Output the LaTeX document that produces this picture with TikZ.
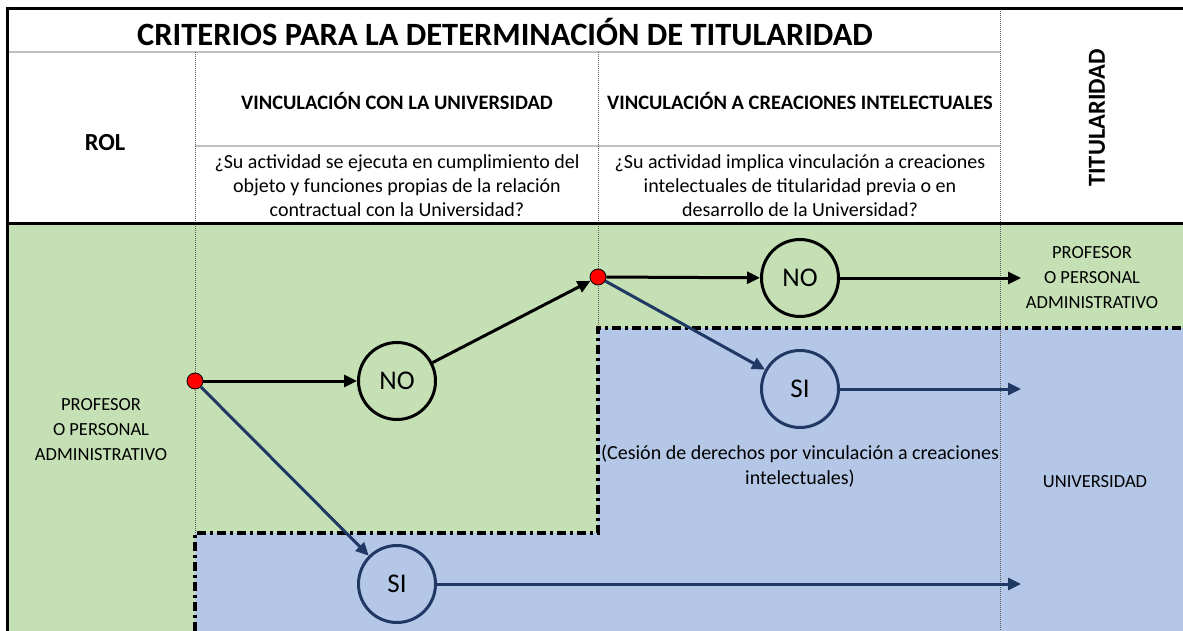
\documentclass[tikz,border=0pt]{standalone}
\usepackage{fontspec}
\setmainfont{Carlito}
\usetikzlibrary{arrows.meta}
\definecolor{verde}{HTML}{C5E0B4}
\definecolor{azul}{HTML}{B4C7E7}
\definecolor{azuloscuro}{HTML}{203864}

\begin{document}
\begin{tikzpicture}[x=1pt, y=-1pt,
        punto/.style={circle, draw, fill=red, inner sep=0pt, minimum size=16pt, line width=0.8pt},
        opcion/.style={circle, draw, line width=3pt, inner sep=0pt, minimum size=77pt, font=\fontsize{27}{30}\selectfont},
        flecha/.style={line width=3pt, -{Triangle[length=13pt, width=12pt]}},
        rejilla/.style={gray!70!black, densely dotted, line width=1pt},
        texto/.style={align=center, font=\fontsize{20}{24}\selectfont},
        rotulo/.style={align=center, font=\fontsize{18.5}{25}\selectfont}]
        \useasboundingbox (0, 0) rectangle (1183, 631);
        \fill[white] (0, 0) rectangle (1183, 631);

        % fondos
        \fill[verde] (7, 224) rectangle (1183, 631);
        \fill[azul] (195, 631) -- (195, 533) -- (598, 533) -- (598, 328) -- (1183, 328) -- (1183, 631) -- cycle;

        % rejilla
        \draw[gray!50, line width=1.5pt] (7, 52) -- (1000, 52);
        \draw[gray!50, line width=1.5pt] (195, 146) -- (1000, 146);
        \draw[rejilla] (195, 52) -- (195, 533);
        \draw[rejilla] (598, 52) -- (598, 328);
        \draw[rejilla] (1000, 9) -- (1000, 631);
        \draw[line width=3pt] (7, 631) -- (7, 9) -- (1183, 9);
        \draw[line width=3pt] (7, 224) -- (1183, 224);
        \draw[line width=3.5pt, dash pattern=on 9pt off 4pt on 3pt off 4pt] (195, 631) -- (195, 533) -- (598, 533) -- (598, 328) -- (1183, 328);

        % encabezado
        \node[font=\bfseries\fontsize{32.5}{35}\selectfont] (titulo) at (505, 32) {CRITERIOS PARA LA DETERMINACIÓN DE TITULARIDAD};
        \node[font=\bfseries\fontsize{24.5}{28}\selectfont] (rol) at (105, 143) {ROL};
        \node[font=\bfseries\fontsize{20.5}{24}\selectfont] (vinc1) at (397, 101) {VINCULACIÓN CON LA UNIVERSIDAD};
        \node[font=\bfseries\fontsize{20.5}{24}\selectfont] (vinc2) at (800, 101) {VINCULACIÓN A CREACIONES INTELECTUALES};
        \node[texto] (preg1) at (397, 186) {¿Su actividad se ejecuta en cumplimiento del\\objeto y funciones propias de la relación\\contractual con la Universidad?};
        \node[texto] (preg2) at (800, 186) {¿Su actividad implica vinculación a creaciones\\intelectuales de titularidad previa o en\\desarrollo de la Universidad?};
        \node[rotate=90, font=\bfseries\fontsize{24.5}{28}\selectfont] (titul) at (1097, 118) {TITULARIDAD};

        % textos del cuerpo
        \node[rotulo] (rol1) at (101, 430) {PROFESOR\\O PERSONAL\\ADMINISTRATIVO};
        \node[rotulo] (res1) at (1092, 278) {PROFESOR\\O PERSONAL\\ADMINISTRATIVO};
        \node[rotulo] (res2) at (1095, 482) {UNIVERSIDAD};
        \node[texto, font=\fontsize{20}{25}\selectfont] (cesion) at (800, 466) {(Cesión de derechos por vinculación a creaciones\\intelectuales)};

        % decisiones
        \node[punto] (p1) at (195, 381) {};
        \node[punto] (p2) at (598, 277) {};
        \node[opcion] (no1) at (397, 381) {NO};
        \node[opcion, draw=azuloscuro] (si1) at (397, 584) {SI};
        \node[opcion] (no2) at (800, 278) {NO};
        \node[opcion, draw=azuloscuro] (si2) at (800, 389) {SI};
        \coordinate (f1) at (1021, 278);
        \coordinate (f2) at (1021, 389);
        \coordinate (f3) at (1021, 584);

        \draw[flecha] (p1) -- (no1);
        \draw[flecha, azuloscuro] (p1) -- (si1);
        \draw[flecha] (no1) -- (p2);
        \draw[flecha] (p2) -- (no2);
        \draw[flecha, azuloscuro] (p2) -- (si2);
        \draw[flecha] (no2) -- (f1);
        \draw[flecha, azuloscuro] (si2) -- (f2);
        \draw[flecha, azuloscuro] (si1) -- (f3);
\end{tikzpicture}
\end{document}
